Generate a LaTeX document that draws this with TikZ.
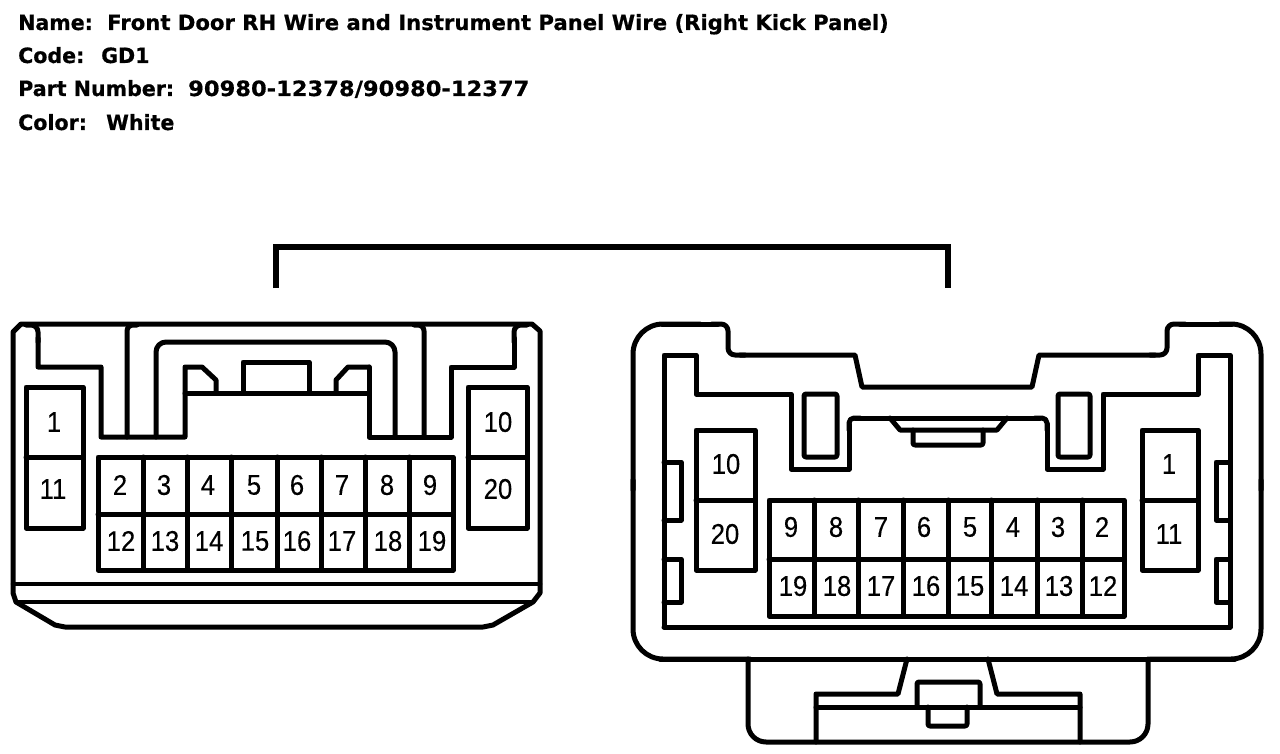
\documentclass[tikz,border=0pt]{standalone}
\usepackage{fontspec}
\newfontfamily\headfont[FakeStretch=0.98,FakeBold=0.6]{DejaVu Sans Bold}
\newfontfamily\headlong[FakeStretch=1.008,FakeBold=0.6]{DejaVu Sans Bold}
\newfontfamily\headnum[FakeStretch=1.075,FakeBold=0.6]{DejaVu Sans Bold}
\newfontfamily\pinfont[FakeStretch=0.9,FakeBold=0.3]{Liberation Sans}
\tikzset{
  wire/.style={draw=black,line width=5pt,line join=round,line cap=round},
  thin wire/.style={draw=black,line width=4.5pt,line join=round,line cap=round},
  pin/.style={inner sep=0pt,font=\pinfont\fontsize{28.5}{28.5}\selectfont,text=black},
  head/.style={anchor=base west,inner sep=0pt,font=\headfont\fontsize{21}{21}\selectfont,text=black}
}
\begin{document}
\begin{tikzpicture}[x=1pt,y=-1pt]
\useasboundingbox[fill=white] (0,0) rectangle (1280,754);
% header
\node[head] (n1) at (18,30) {Name:};
\node[head,font=\headlong\fontsize{21}{21}\selectfont] (n2) at (107,30) {Front Door RH Wire and Instrument Panel Wire (Right Kick Panel)};
\node[head] (c1) at (18,63) {Code:};
\node[head] (c2) at (101,63) {GD1};
\node[head] (p1) at (18,96) {Part Number:};
\node[head,font=\headnum\fontsize{21}{21}\selectfont] (p2) at (188,96) {90980-12378/90980-12377};
\node[head] (k1) at (18,130) {Color:};
\node[head] (k2) at (106,130) {White};
% bracket
\coordinate (bl) at (276,288);
\coordinate (br) at (948,288);
\draw[draw=black,line width=5.5pt,line join=miter] (bl) -- (276,247) -- (948,247) -- (br);
% ---- left connector ----
\draw[wire] (13,593) -- (13,332) -- (21,324) -- (532,324) -- (540,331) -- (540,593)
  -- (533,602) -- (493,625) -- (483,627) -- (65,627) -- (55,625) -- (16,602) -- cycle;
\draw[thin wire] (13,584) -- (540,584);
\draw[thin wire] (16,602) -- (533,602);
\draw[wire,rounded corners=7pt] (26,325) -- (38,325) -- (38,342);
\draw[wire] (38,338) -- (38,367) -- (101,367) -- (101,437) -- (185,437) -- (185,367)
  -- (202,367) -- (216,380) -- (216,393);
\draw[wire] (185,393) -- (369,393);
\draw[wire] (369,367) -- (369,437) -- (451,437) -- (451,367) -- (514,367) -- (514,338);
\draw[wire,rounded corners=7pt] (514,342) -- (514,325) -- (527,325);
\draw[wire] (369,367) -- (348,367) -- (336,380) -- (336,393);
\draw[wire,rounded corners=6pt] (127,437) -- (127,325) -- (137,325);
\draw[wire,rounded corners=6pt] (424,437) -- (424,325) -- (414,325);
\draw[wire,rounded corners=10pt] (156,437) -- (156,342) -- (395,342) -- (395,437);
\draw[wire] (243,393) -- (243,362) -- (309,362) -- (309,393);
% left pin blocks
\draw[wire] (26,387) rectangle (83,528);
\draw[wire] (26,457) -- (83,457);
\draw[wire] (468,387) rectangle (527,528);
\draw[wire] (468,457) -- (527,457);
\draw[wire] (98,457) rectangle (453,570);
\draw[wire] (98,514) -- (453,514);
\foreach \x in {143,187,231,277,321,365,409} \draw[wire] (\x,457) -- (\x,570);
\foreach \t/\x/\y in {1/54/422,11/53/489,10/498/422,20/498/489,
  2/120/485,3/164/485,4/208/485,5/254/485,6/297/485,7/342/485,8/387/485,9/430/485,
  12/121/541,13/165/541,14/209/541,15/255/541,16/297/541,17/342/541,18/388/541,19/432/541}
  \node[pin] (L\t) at (\x,\y) {\t};
% ---- right connector ----
\draw[wire,rounded corners=30pt] (633,490) -- (633,324) -- (700,324);
\draw[wire] (662,324) -- (718,324);
\draw[wire,rounded corners=7pt] (712,324) -- (728,324) -- (728,355) -- (745,355);
\draw[wire] (740,355) -- (855,355) -- (862,387) -- (1032,387) -- (1039,355) -- (1155,355);
\draw[wire,rounded corners=7pt] (1150,355) -- (1167,355) -- (1167,324) -- (1185,324);
\draw[wire] (1180,324) -- (1232,324);
\draw[wire,rounded corners=30pt] (1220,324) -- (1261,324) -- (1261,490);
\draw[wire,rounded corners=30pt] (1261,480) -- (1261,659) -- (1150,659);
\draw[wire] (1235,659) -- (660,659);
\draw[wire,rounded corners=30pt] (750,659) -- (633,659) -- (633,480);
\draw[wire] (664,627) -- (664,355) -- (696,355) -- (696,394) -- (791,394) -- (791,469) -- (849,469) -- (849,424);
\draw[wire,rounded corners=5pt] (849,430) -- (849,418) -- (860,418);
\draw[wire] (855,418) -- (1040,418);
\draw[wire,rounded corners=5pt] (1035,418) -- (1047,418) -- (1047,430);
\draw[wire] (1047,424) -- (1047,469) -- (1103,469) -- (1103,394) -- (1198,394) -- (1198,355) -- (1230,355) -- (1230,627) -- (664,627);
\draw[wire,rounded corners=2pt] (804,394) rectangle (837,457);
\draw[wire,rounded corners=2pt] (1058,394) rectangle (1090,457);
\draw[wire] (890,418) -- (900,430) -- (997,430) -- (1007,418);
\draw[wire,rounded corners=2pt] (913,430) -- (913,445) -- (983,445) -- (983,430);
\draw[wire] (664,462) -- (681,462) -- (681,520) -- (664,520);
\draw[wire] (664,559) -- (681,559) -- (681,602) -- (664,602);
\draw[wire] (1230,462) -- (1216,462) -- (1216,520) -- (1230,520);
\draw[wire] (1230,559) -- (1216,559) -- (1216,602) -- (1230,602);
% right pin blocks
\draw[wire] (696,430) rectangle (755,570);
\draw[wire] (696,500) -- (755,500);
\draw[wire] (1142,430) rectangle (1198,570);
\draw[wire] (1142,500) -- (1198,500);
\draw[wire] (769,500) rectangle (1124,616);
\draw[wire] (769,559) -- (1124,559);
\foreach \x in {814,858,903,948,991,1037,1082} \draw[wire] (\x,500) -- (\x,616);
\foreach \t/\x/\y in {10/726/464,20/725/534,1/1169/464,11/1169/534,
  9/791/527,8/836/527,7/881/527,6/924/527,5/970/527,4/1013/527,3/1058/527,2/1102/527,
  19/793/586,18/837/586,17/881/586,16/926/586,15/970/586,14/1014/586,13/1059/586,12/1103/586}
  \node[pin] (R\t) at (\x,\y) {\t};
% bottom latch
\draw[wire,rounded corners=18pt] (748,659) -- (748,742) -- (1148,742) -- (1148,659);
\draw[wire] (816,742) -- (816,694) -- (898,694) -- (907,659);
\draw[wire] (988,659) -- (997,694) -- (1080,694) -- (1080,742);
\draw[wire] (816,707) -- (1080,707);
\draw[wire,rounded corners=2pt] (917,707) -- (917,682) -- (980,682) -- (980,707);
\draw[wire,rounded corners=2pt] (928,707) -- (928,726) -- (967,726) -- (967,707);
\end{tikzpicture}
\end{document}
